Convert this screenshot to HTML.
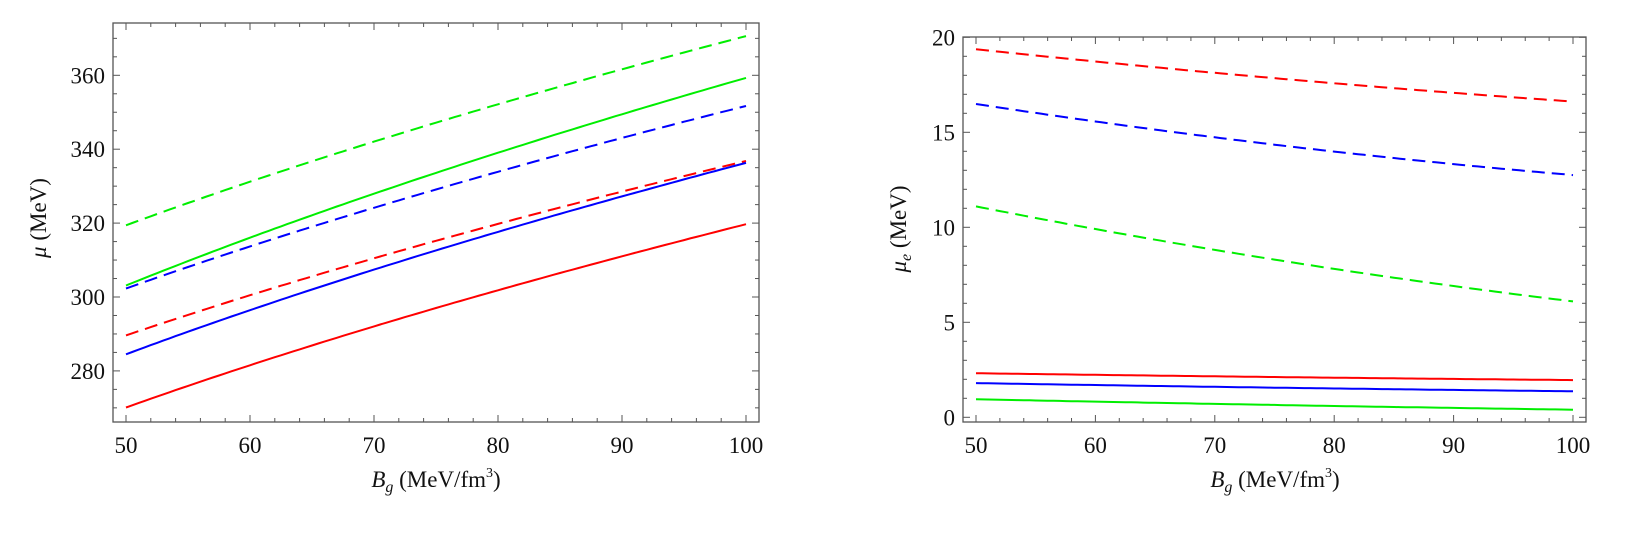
<!DOCTYPE html>
<html><head><meta charset="utf-8">
<style>
html,body{margin:0;padding:0;background:#fff;}
svg{display:block;}
text{font-family:"Liberation Serif",serif;fill:#111;}
</style></head>
<body>
<svg id="s" width="1635" height="535" viewBox="0 0 1635 535" xmlns="http://www.w3.org/2000/svg">
<g id="g"></g>
<text x="46" y="218" font-size="23" text-anchor="middle" transform="rotate(-90 46 218)"><tspan font-style="italic">μ</tspan> (MeV)</text>
<text x="436" y="487" font-size="23" text-anchor="middle"><tspan font-style="italic">B</tspan><tspan font-style="italic" font-size="16" dy="5">g</tspan><tspan dy="-5"> (MeV/fm</tspan><tspan font-size="14" dy="-10">3</tspan><tspan dy="10">)</tspan></text>
<text x="906" y="229" font-size="23" text-anchor="middle" transform="rotate(-90 906 229)"><tspan font-style="italic">μ</tspan><tspan font-style="italic" font-size="16" dy="5">e</tspan><tspan dy="-5"> (MeV)</tspan></text>
<text x="1275" y="487" font-size="23" text-anchor="middle"><tspan font-style="italic">B</tspan><tspan font-style="italic" font-size="16" dy="5">g</tspan><tspan dy="-5"> (MeV/fm</tspan><tspan font-size="14" dy="-10">3</tspan><tspan dy="10">)</tspan></text>
</svg>
<script>
var g=document.getElementById('g'),h='';
function panel(L,R,T,B,xm,ym,xmaj,ymaj,ymin,ylabels,curves){
  h+='<rect x="'+L+'" y="'+T+'" width="'+(R-L)+'" height="'+(B-T)+'" fill="none" stroke="#555" stroke-width="1.3"/>';
  for(var x=50;x<=100.01;x+=2){var px=xm(x),maj=(x%10==0),l=maj?7:4;
    h+='<line x1="'+px+'" y1="'+B+'" x2="'+px+'" y2="'+(B-l)+'" stroke="#555"/><line x1="'+px+'" y1="'+T+'" x2="'+px+'" y2="'+(T+l)+'" stroke="#555"/>';
    if(maj)h+='<text x="'+px+'" y="453" font-size="23" text-anchor="middle">'+x+'</text>';}
  for(var v=ymin[0];v<=ymin[1]+0.01;v+=ymin[2]){var py=ym(v);if(py<T-0.5||py>B+0.5)continue;var maj=(Math.abs(v%ymaj)<0.01),l=maj?7:4;
    h+='<line x1="'+L+'" y1="'+py+'" x2="'+(L+l)+'" y2="'+py+'" stroke="#555"/><line x1="'+R+'" y1="'+py+'" x2="'+(R-l)+'" y2="'+py+'" stroke="#555"/>';
    if(maj)h+='<text x="'+(L-8)+'" y="'+(py+8)+'" font-size="23" text-anchor="end">'+v+'</text>';}
  curves.forEach(function(c){var d='';for(var i=0;i<=100;i++){var x=50+i*0.5;d+=(i?'L':'M')+xm(x).toFixed(1)+' '+ym(c.f(x)).toFixed(1);}
    h+='<path d="'+d+'" fill="none" stroke="'+c.c+'" stroke-width="2"'+(c.d?' stroke-dasharray="13 7"':'')+'/>';});
}
function sq(a0,a1){var b=(a1-a0)/(10-Math.sqrt(50)),a=a0-b*Math.sqrt(50);return function(x){return a+b*Math.sqrt(x);};}
function qd(a0,am,a1){return function(x){var t=(x-50)/50;return a0*(1-t)*(1-2*t)+am*4*t*(1-t)+a1*t*(2*t-1);};}
panel(113,759,23,422,function(x){return 126+12.4*(x-50);},function(v){return 297-(v-300)*3.695;},10,20,[270,370,5],null,[
 {c:'#00ee00',d:1,f:sq(319.4,370.6)},
 {c:'#00ee00',f:sq(303.1,359.3)},
 {c:'#0000ff',d:1,f:sq(302.3,351.7)},
 {c:'#ff0000',d:1,f:sq(289.6,336.8)},
 {c:'#0000ff',f:sq(284.5,336.3)},
 {c:'#ff0000',f:sq(270.1,319.7)}]);
panel(963,1586,37,422,function(x){return 976+11.94*(x-50);},function(v){return 417.3-19*v;},10,5,[0,20,1],null,[
 {c:'#ff0000',d:1,f:qd(19.37,17.85,16.62)},
 {c:'#0000ff',d:1,f:qd(16.49,14.35,12.75)},
 {c:'#00ee00',d:1,f:qd(11.1,8.3,6.1)},
 {c:'#ff0000',f:qd(2.32,2.12,1.96)},
 {c:'#0000ff',f:qd(1.8,1.56,1.37)},
 {c:'#00ee00',f:qd(0.95,0.65,0.4)}]);
g.innerHTML=h;
</script>
</body></html>
